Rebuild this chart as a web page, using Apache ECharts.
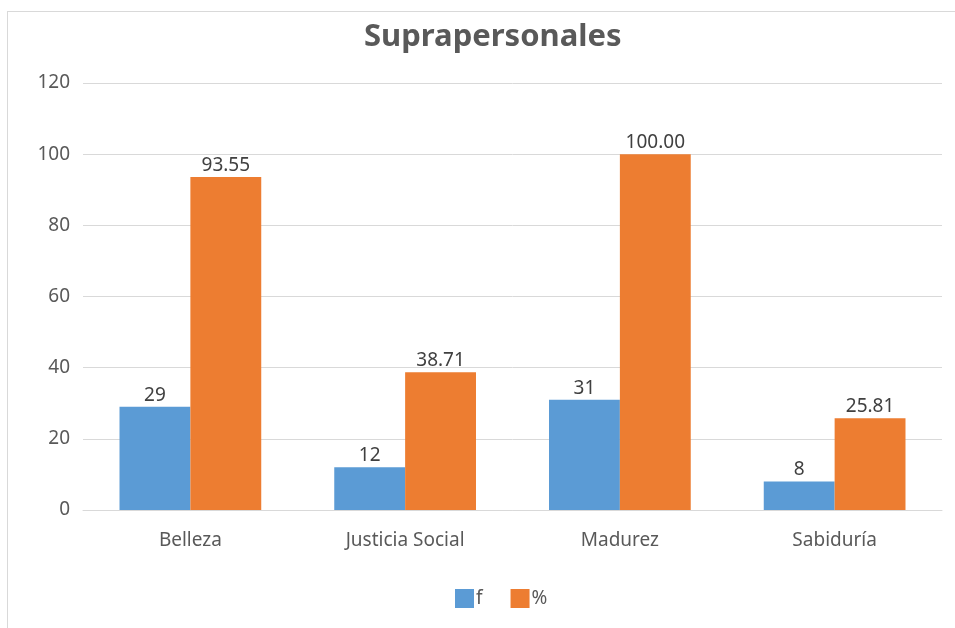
<!DOCTYPE html>
<html>
<head>
<meta charset="utf-8">
<script src="https://cdn.jsdelivr.net/npm/echarts@6/dist/echarts.min.js"></script>
<style>
    html, body { margin: 0; padding: 0; background: #fff; }
    .frame { position: absolute; left: 7px; top: 11px; width: 960px; height: 640px;
             border-left: 1px solid #d9d9d9; border-top: 1px solid #d9d9d9; }
    #chart { width: 955px; height: 628px; position: absolute; left: 0; top: 0; }
</style>
</head>
<body>
<div class="frame"></div>
<div id="chart"></div>
<script>
    const categories = ['Belleza', 'Justicia Social', 'Madurez', 'Sabiduría'];
    const fValues = [29, 12, 31, 8];
    const pctValues = [93.55, 38.71, 100.00, 25.81];

    const font = '"Noto Sans", "Open Sans", sans-serif';
    let chart = echarts.init(document.getElementById('chart'));
    chart.setOption({
        animation: false,
        title: {
            text: 'Suprapersonales',
            left: 359,
            top: 17,
            textStyle: { fontFamily: font, fontSize: 31, fontWeight: 'bold', color: '#595959' }
        },
        legend: {
            data: ['f', '%'],
            top: 584,
            left: 450,
            itemWidth: 19,
            itemHeight: 19,
            itemGap: 28,
            icon: 'rect',
            textStyle: { fontFamily: font, fontSize: 19, color: '#595959', padding: [0, 0, 0, -3] }
        },
        grid: { left: 83, right: 13, top: 83, bottom: 118, containLabel: false },
        xAxis: {
            type: 'category',
            data: categories,
            axisLine: { show: true, lineStyle: { color: '#d9d9d9' } },
            axisTick: { show: false },
            axisLabel: { fontFamily: font, fontSize: 19, color: '#595959', margin: 21 }
        },
        yAxis: {
            type: 'value',
            min: 0,
            max: 120,
            interval: 20,
            axisLine: { show: false },
            axisTick: { show: false },
            splitLine: { lineStyle: { color: '#d9d9d9' } },
            axisLabel: { fontFamily: font, fontSize: 19, color: '#595959', margin: 13 }
        },
        series: [
            {
                name: 'f',
                type: 'bar',
                data: fValues,
                barGap: '0%',
                barCategoryGap: '34%',
                itemStyle: { color: '#5B9BD5' },
                label: { show: true, position: 'top', fontFamily: font, fontSize: 19, color: '#404040', distance: 2 }
            },
            {
                name: '%',
                type: 'bar',
                data: pctValues,
                barGap: '0%',
                barCategoryGap: '34%',
                itemStyle: { color: '#ED7D31' },
                label: {
                    show: true, position: 'top', fontFamily: font, fontSize: 19, color: '#404040', distance: 2,
                    formatter: p => p.value.toFixed(2)
                }
            }
        ]
    });
</script>
</body>
</html>
